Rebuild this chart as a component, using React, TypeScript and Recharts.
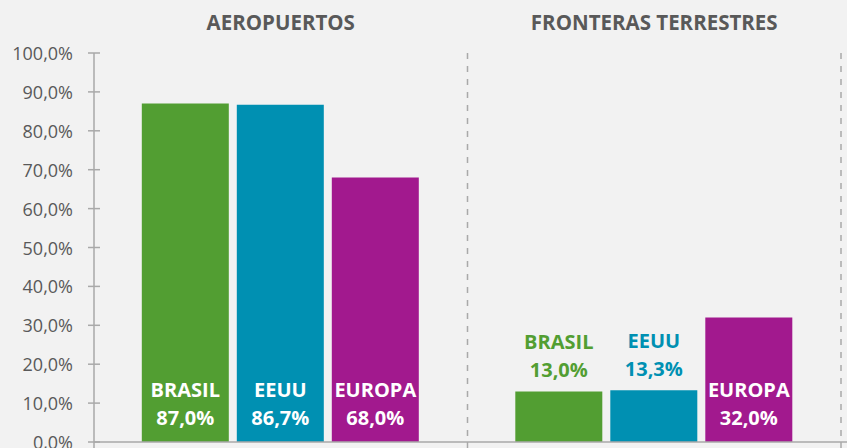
import { Bar, BarChart, LabelList, XAxis, YAxis } from "recharts";

const CATEGORIES = ["AEROPUERTOS", "FRONTERAS TERRESTRES"];
const BRASIL = [87.0, 13.0];
const EEUU = [86.7, 13.3];
const EUROPA = [68.0, 32.0];
const Y_TICKS = [0, 10, 20, 30, 40, 50, 60, 70, 80, 90, 100];

const SERIES = [
  { key: "brasil", name: "BRASIL", color: "#529E32" },
  { key: "eeuu", name: "EEUU", color: "#0090B2" },
  { key: "europa", name: "EUROPA", color: "#A2198E" },
];

const data = CATEGORIES.map((cat, i) => ({ cat, brasil: BRASIL[i], eeuu: EEUU[i], europa: EUROPA[i] }));

const FONT = '"Open Sans", sans-serif';
const TEXT = "#595959";
const AXIS = "#A9A9A9";
const W = 847;
const H = 448;
const TOP = 13;
const TOP_AXIS_H = 40;
const PLOT_TOP = TOP + TOP_AXIS_H;

const fmt = (v: number) => v.toFixed(1).replace(".", ",") + "%";

function YTick(props: any) {
  const { x, y, payload } = props;
  return (
    <g>
      <line x1={x - 6} x2={x + 6} y1={y} y2={y} stroke={AXIS} strokeWidth={1.5} />
      <text x={x - 21} y={y} textAnchor="end" dominantBaseline="central" fill={TEXT} fontSize={18} fontFamily={FONT}>
        {fmt(payload.value)}
      </text>
    </g>
  );
}

function TitleTick(props: any) {
  const { x, y, payload } = props;
  return (
    <text x={x} y={y - 31} textAnchor="middle" dominantBaseline="central" fill={TEXT} fontSize={20.5} fontWeight={700} fontFamily={FONT}>
      {payload.value}
    </text>
  );
}

// dashed separators and tick marks sit on category boundaries
function BottomTick(props: any) {
  const { x, y, payload, index } = props;
  const half = payload.offset ?? 0;
  const right = x + half;
  return (
    <g>
      {index === 0 && <line x1={x - half} x2={x - half} y1={y} y2={y + 8} stroke={AXIS} strokeWidth={1.5} />}
      <line x1={right} x2={right} y1={y} y2={y + 8} stroke={AXIS} strokeWidth={1.5} />
      <line x1={right} x2={right} y1={PLOT_TOP} y2={y} stroke={AXIS} strokeWidth={1.5} strokeDasharray="6 7" />
    </g>
  );
}

function barLabel(name: string, color: string) {
  return (props: any) => {
    const x = Number(props.x);
    const y = Number(props.y);
    const w = Number(props.width);
    const h = Number(props.height);
    const cx = x + w / 2;
    const inside = h > 80;
    const y1 = inside ? y + h - 53 : y - 50;
    const y2 = inside ? y + h - 25 : y - 22;
    const fill = inside ? "#FFFFFF" : color;
    return (
      <g>
        <text x={cx} y={y1} textAnchor="middle" dominantBaseline="central" fill={fill} fontSize={20} fontWeight={700} fontFamily={FONT}>
          {name}
        </text>
        <text x={cx} y={y2} textAnchor="middle" dominantBaseline="central" fill={fill} fontSize={20} fontWeight={700} fontFamily={FONT}>
          {fmt(Number(props.value))}
        </text>
      </g>
    );
  };
}

export default function App() {
  return (
    <div style={{ position: "absolute", left: 0, top: 0, width: W, height: H, background: "#F2F2F2", overflow: "hidden" }}>
      <BarChart width={W} height={H} data={data} margin={{ top: TOP, right: 0, bottom: 0, left: 0 }} barCategoryGap="12.8%" barGap={8}>
        <XAxis
          xAxisId="top"
          orientation="top"
          dataKey="cat"
          height={TOP_AXIS_H}
          axisLine={false}
          tickLine={false}
          tickSize={0}
          tickMargin={0}
          padding={{ left: 0, right: 6 }}
          tick={TitleTick}
          interval={0}
        />
        <XAxis
          dataKey="cat"
          height={6}
          axisLine={{ stroke: AXIS, strokeWidth: 1.5 }}
          tickLine={false}
          tickSize={0}
          tickMargin={0}
          padding={{ left: 0, right: 6 }}
          tick={BottomTick}
          interval={0}
        />
        <YAxis
          width={94}
          domain={[0, 100]}
          ticks={Y_TICKS}
          interval={0}
          axisLine={{ stroke: AXIS, strokeWidth: 1.5 }}
          tickLine={false}
          tickSize={0}
          tickMargin={0}
          tick={YTick}
        />
        {SERIES.map((s) => (
          <Bar key={s.key} dataKey={s.key} fill={s.color} isAnimationActive={false}>
            <LabelList dataKey={s.key} content={barLabel(s.name, s.color)} />
          </Bar>
        ))}
      </BarChart>
    </div>
  );
}
